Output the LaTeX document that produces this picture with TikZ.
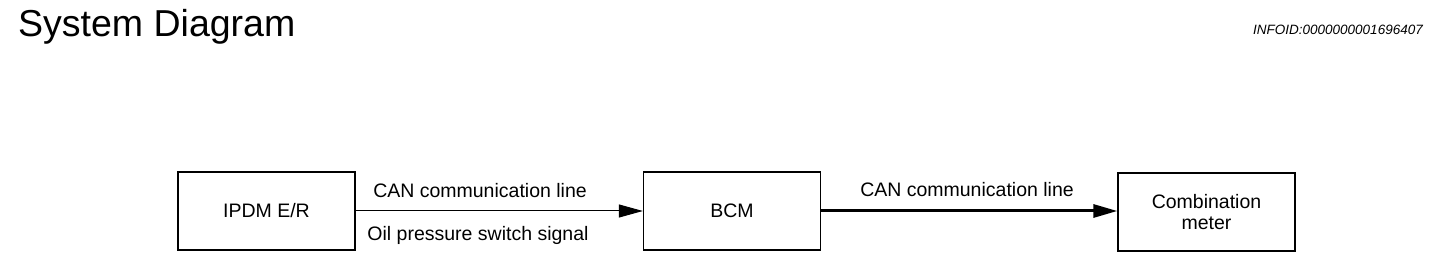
\documentclass[tikz,border=0pt]{standalone}
\usepackage{fontspec}
\setmainfont{Liberation Sans}
\usetikzlibrary{arrows.meta}

\begin{document}
\begin{tikzpicture}[
    x=1pt, y=-1pt,
    unit/.style={draw, line width=1.3pt, minimum width=177pt, minimum height=78pt, align=center, font=\fontsize{19.5}{21}\selectfont, inner sep=0pt},
    lbl/.style={font=\fontsize{19.5}{21}\selectfont, inner sep=0pt},
    sig/.style={-{Triangle[length=24pt, width=13pt]}, line width=1pt},
    can/.style={-{Triangle[length=24pt, width=13pt]}, line width=3pt}
]
    \useasboundingbox (0,0) rectangle (1456,280);

    % Heading and document id
    \node[anchor=base west, inner sep=0pt, font=\fontsize{37.5}{40}\selectfont] (title) at (18,37) {System Diagram};
    \node[anchor=base east, inner sep=0pt, font=\fontsize{13.5}{15}\selectfont\itshape] (infoid) at (1423,35) {INFOID:0000000001696407};

    % Control units
    \node[unit] (ipdm) at (266.5,211) {IPDM E/R};
    \node[unit] (bcm) at (732,211) {BCM};
    \node[unit] (meter) at (1206.5,212) {Combination\\meter};

    % Signal lines
    \draw[sig] (ipdm.east) -- (bcm.west);
    \draw[can] (bcm.east) -- (meter.west |- bcm.east);

    % Line labels
    \node[lbl] (can1) at (480,191) {CAN communication line};
    \node[lbl] (oil) at (478,235) {Oil pressure switch signal};
    \node[lbl] (can2) at (967,190) {CAN communication line};
\end{tikzpicture}
\end{document}
